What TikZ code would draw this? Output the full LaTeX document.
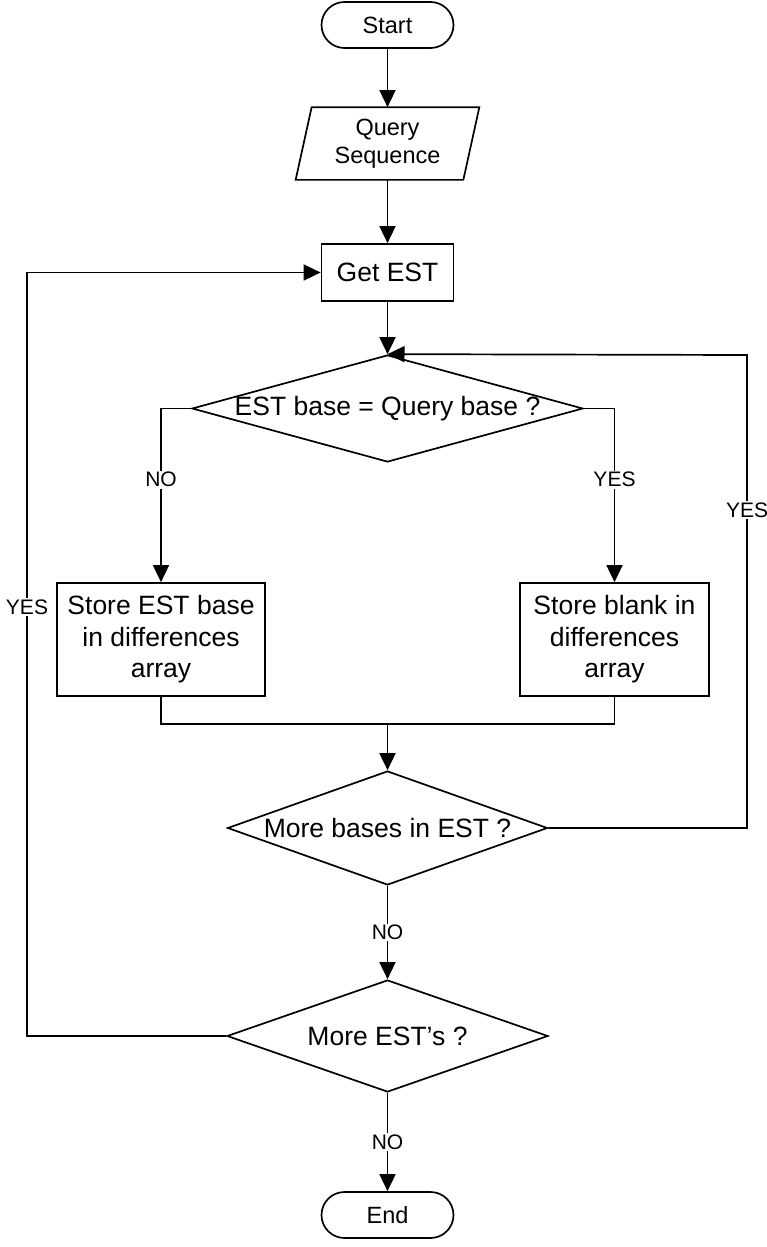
\documentclass[tikz,border=0pt]{standalone}
\usepackage{fontspec}
\setmainfont{Liberation Sans}
\usetikzlibrary{shapes.geometric,arrows.meta,calc}
\begin{document}
\begin{tikzpicture}[x=1pt,y=-1pt,line width=1.7pt,
  every node/.style={font=\fontsize{26.5}{31.5}\selectfont},
  box/.style={draw, align=center, inner sep=0pt},
  term/.style={draw, rounded corners=23pt, minimum width=132pt, minimum height=46pt, inner sep=0pt, font=\fontsize{23.5}{28}\selectfont},
  io/.style={align=center, inner sep=0pt, font=\fontsize{23.5}{28.5}\selectfont},
  dec/.style={draw, diamond, inner sep=0pt},
  lbl/.style={fill=white, inner sep=1.5pt, font=\fontsize{21}{24}\selectfont},
  arr/.style={-{Triangle[length=17pt,width=16pt]}}]
\useasboundingbox (0,0) rectangle (767,1247);
% nodes
\node[term] (start) at (387.5,25) {Start};
\node[io, minimum width=150pt, minimum height=71pt] (query) at (387.5,143.5) {Query\\Sequence};
\draw (query.north west) -- ($(query.north east)+(16,0)$) -- (query.south east) -- ($(query.south west)+(-16,0)$) -- cycle;
\node[box, minimum width=132pt, minimum height=57pt] (get) at (387.5,272.5) {Get EST};
\node[dec, minimum width=391pt, minimum height=107pt] (d1) at (387.5,408.5) {\makebox[0pt]{EST base = Query base ?}};
\node[box, minimum width=208pt, minimum height=113pt] (sl) at (161,639.5) {Store EST base\\in differences\\array};
\node[box, minimum width=189pt, minimum height=113pt] (sr) at (614.5,639.5) {Store blank in\\differences\\array};
\node[dec, minimum width=320pt, minimum height=114pt] (d2) at (387.5,828) {\makebox[0pt]{More bases in EST ?}};
\node[dec, minimum width=321pt, minimum height=112pt] (d3) at (387.5,1036) {\makebox[0pt]{More EST’s ?}};
\node[term] (end) at (387.5,1215) {End};
% helper coordinates
\coordinate (m) at (387.5,724);
\coordinate (r1) at (747,828);
\coordinate (r2) at (747,355);
\coordinate (l1) at (27,1036);
\coordinate (l2) at (27,272.5);
% connectors
\draw[arr] (start) -- (query);
\draw[arr] (query) -- (get);
\draw[arr] (get) -- (d1);
\draw[arr] (d1.west) -| node[lbl, pos=0.705] {NO} (sl.north);
\draw[arr] (d1.east) -| node[lbl, pos=0.705] {YES} (sr.north);
\draw (sl.south) |- (m) -| (sr.south);
\draw[arr] (m) -- (d2.north);
\draw[arr] (d2.east) -- (r1) -- node[lbl, pos=0.672] {YES} (r2) -- (d1.north);
\draw[arr] (d2.south) -- node[lbl] {NO} (d3.north);
\draw[arr] (d3.west) -- (l1) -- node[lbl, pos=0.562] {YES} (l2) -- (get.west);
\draw[arr] (d3.south) -- node[lbl] {NO} (end);
\end{tikzpicture}
\end{document}
